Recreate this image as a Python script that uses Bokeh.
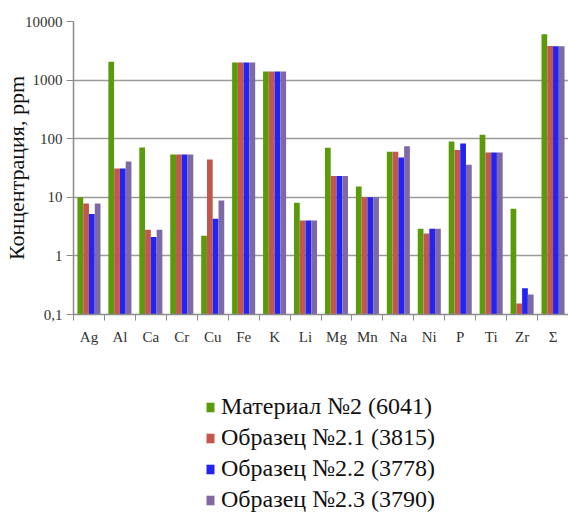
from bokeh.plotting import figure
from bokeh.layouts import column
from bokeh.models import ColumnDataSource, FixedTicker, Legend, LegendItem, Range1d
from bokeh.embed import file_html
from bokeh.resources import INLINE

# Element concentrations, ppm
elements = ["Ag", "Al", "Ca", "Cr", "Cu", "Fe", "K", "Li", "Mg", "Mn", "Na", "Ni", "P", "Ti", "Zr", "Σ"]
material_2 = [10, 2050, 71, 54, 2.2, 2000, 1400, 8.1, 70, 15.3, 60, 2.9, 90, 117, 6.4, 6041]
sample_2_1 = [7.8, 31, 2.8, 54, 44, 2000, 1400, 4.0, 23, 10, 60, 2.4, 64, 58, 0.154, 3815]
sample_2_2 = [5.2, 31, 2.1, 54, 4.3, 2000, 1400, 4.0, 23, 10, 48, 2.9, 83, 58, 0.28, 3778]
sample_2_3 = [7.8, 41, 2.8, 54, 8.8, 2000, 1400, 4.0, 23, 10, 74, 2.9, 36, 58, 0.22, 3790]

series_labels = ["Материал №2 (6041)", "Образец №2.1 (3815)", "Образец №2.2 (3778)", "Образец №2.3 (3790)"]
series_values = [material_2, sample_2_1, sample_2_2, sample_2_3]
series_colors = ["#5b9a0a", "#c4574c", "#2323f2", "#7e68a6"]

y_ticks = [0.1, 1, 10, 100, 1000, 10000]
y_tick_labels = ["0,1", "1", "10", "100", "1000", "10000"]

FONT = "Liberation Serif"
bar_w = 0.185
offsets = [-0.28, -0.093, 0.093, 0.28]

centers = [i + 0.5 for i in range(len(elements))]
bounds = [float(i) for i in range(len(elements) + 1)]

p = figure(width=568, height=365, y_axis_type="log",
           output_backend="svg", toolbar_location=None,
           x_range=Range1d(0, len(elements)), y_range=Range1d(0.1, 10000),
           min_border_left=72, min_border_right=0, min_border_top=21, min_border_bottom=51)
p.outline_line_color = None
p.background_fill_color = "white"
p.border_fill_color = "white"

sources = []
for vals, col, off in zip(series_values, series_colors, offsets):
    src = ColumnDataSource(dict(x=[c + off for c in centers], top=vals))
    sources.append(src)
    p.vbar(x="x", top="top", bottom=0.1, width=bar_w, source=src,
           fill_color=col, line_color=None)

# x axis: names at category centres, tick marks at group boundaries
p.xaxis.ticker = FixedTicker(ticks=centers, minor_ticks=bounds)
p.xaxis.major_label_overrides = {c: e for c, e in zip(centers, elements)}
p.xaxis.major_tick_line_color = None
p.xaxis.minor_tick_line_color = "#8c8c8c"
p.xaxis.minor_tick_out = 6
p.xaxis.minor_tick_in = 0
p.xaxis.axis_line_color = "#8c8c8c"
p.xaxis.axis_line_width = 1.5
p.xaxis.major_label_text_font = FONT
p.xaxis.major_label_text_font_size = "15px"
p.xaxis.major_label_text_color = "#333333"
p.xaxis.major_label_standoff = 8

# y axis
p.yaxis.ticker = FixedTicker(ticks=y_ticks)
p.yaxis.major_label_overrides = {t: s for t, s in zip(y_ticks, y_tick_labels)}
p.yaxis.minor_tick_line_color = None
p.yaxis.major_tick_line_color = "#8c8c8c"
p.yaxis.major_tick_out = 7
p.yaxis.major_tick_in = 0
p.yaxis.axis_line_color = "#8c8c8c"
p.yaxis.axis_line_width = 1.5
p.yaxis.major_label_text_font = FONT
p.yaxis.major_label_text_font_size = "15px"
p.yaxis.major_label_text_color = "#333333"
p.yaxis.major_label_standoff = 4
p.yaxis.axis_label = "Концентрация, ppm"
p.yaxis.axis_label_text_font = FONT
p.yaxis.axis_label_text_font_style = "normal"
p.yaxis.axis_label_text_font_size = "22px"
p.yaxis.axis_label_text_color = "#111111"
p.yaxis.axis_label_standoff = -7

p.xgrid.grid_line_color = None
p.ygrid.ticker = FixedTicker(ticks=y_ticks)
p.ygrid.grid_line_color = "#9a9a9a"
p.ygrid.grid_line_width = 1.5

# legend panel below the chart; its swatch renderers share the series
# sources but stay hidden, so only their legend entries are drawn
leg = figure(width=568, height=164, output_backend="svg", toolbar_location=None,
             x_range=Range1d(0, len(elements)), y_range=Range1d(-2, -1),
             min_border=0, outline_line_color=None)
leg.axis.visible = False
leg.grid.visible = False
swatches = []
for src, col in zip(sources, series_colors):
    swatches.append(leg.vbar(x="x", top="top", bottom="top", width=bar_w, source=src,
                             fill_color=col, line_color=None, visible=False))

legend = Legend(items=[LegendItem(label=l, renderers=[r]) for l, r in zip(series_labels, swatches)],
                location=(132, 16), orientation="vertical",
                label_text_font=FONT, label_text_font_size="24px", label_text_color="#111111",
                glyph_width=10, glyph_height=12, label_height=20, label_standoff=6,
                spacing=4, padding=0, margin=0, inactive_fill_alpha=0,
                border_line_color=None, background_fill_alpha=0)
leg.add_layout(legend, "center")

open("out.html", "w").write(file_html(column(p, leg), INLINE))
